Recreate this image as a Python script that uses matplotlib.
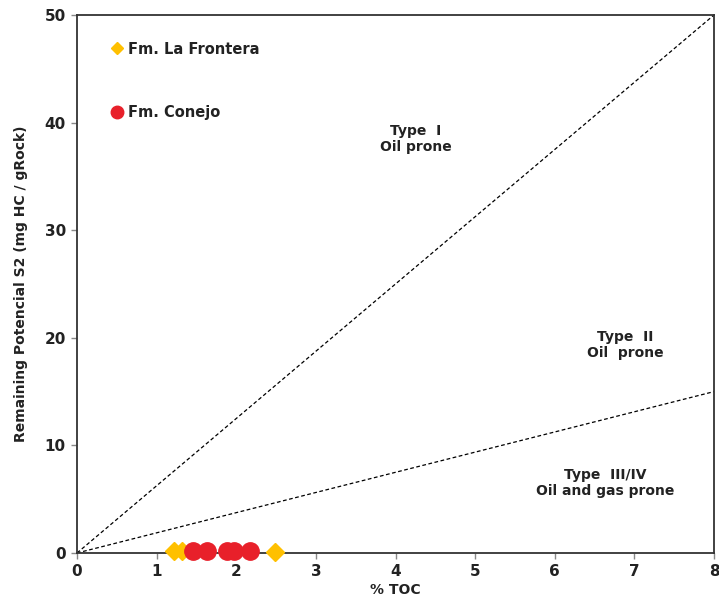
import matplotlib
matplotlib.use("Agg")
import matplotlib.pyplot as plt
from matplotlib.lines import Line2D

# Data
frontera_toc = [1.22, 1.32, 2.49]
frontera_s2 = [0.15, 0.2, 0.1]
conejo_toc = [1.46, 1.63, 1.88, 1.97, 2.17]
conejo_s2 = [0.2, 0.2, 0.2, 0.15, 0.2]

type1_x = [0, 8]
type1_y = [0, 50]
type2_x = [0, 8]
type2_y = [0, 15]

x_ticks = [0, 1, 2, 3, 4, 5, 6, 7, 8]
y_ticks = [0, 10, 20, 30, 40, 50]

plt.rcParams['font.family'] = ['DejaVu Sans']
fig = plt.figure(figsize=(7.19, 6.03), dpi=100)
ax = fig.add_axes([77/719, 1-553/603, (714-77)/719, (553-15)/603])

ax.plot(type1_x, type1_y, ls=(0, (3, 2)), color='black', lw=0.9)
ax.plot(type2_x, type2_y, ls=(0, (3, 2)), color='black', lw=0.9)

ax.plot(frontera_toc, frontera_s2, ls='none', marker='D', ms=9.5, color='#FFC000',
        clip_on=False, zorder=5)
ax.plot(conejo_toc, conejo_s2, ls='none', marker='o', ms=12.5, color='#E8202A',
        clip_on=False, zorder=6)

ax.set_xlim(0, 8)
ax.set_ylim(0, 50)
ax.set_xticks(x_ticks)
ax.set_yticks(y_ticks)
ax.tick_params(direction='out', length=4, color='#888888', width=1,
               labelsize=11, pad=4)
for lab in ax.get_xticklabels() + ax.get_yticklabels():
    lab.set_fontweight('bold')
    lab.set_color('#222222')
for s in ax.spines.values():
    s.set_color('#333333')
    s.set_linewidth(1.3)

ax.set_xlabel('% TOC', fontsize=10, fontweight='bold', labelpad=3, color='#222222')
ax.set_ylabel('Remaining Potencial S2 (mg HC / gRock)', fontsize=10,
              fontweight='bold', labelpad=12, color='#222222')

ax.text(4.25, 38.5, 'Type  I\nOil prone', ha='center', va='center',
        fontsize=10, fontweight='bold', color='#222222')
ax.text(6.88, 19.3, 'Type  II\nOil  prone', ha='center', va='center',
        fontsize=10, fontweight='bold', color='#222222')
ax.text(6.63, 6.5, 'Type  III/IV\nOil and gas prone', ha='center', va='center',
        fontsize=10, fontweight='bold', color='#222222')

handles = [Line2D([], [], ls='none', marker='D', ms=6, color='#FFC000'),
           Line2D([], [], ls='none', marker='o', ms=9, color='#E8202A')]
leg = ax.legend(handles, ['Fm. La Frontera', 'Fm. Conejo'], loc='upper left',
                bbox_to_anchor=(0.03, 0.975), frameon=False,
                fontsize=10.5, labelspacing=3.3, handletextpad=0.3,
                handlelength=1.0)
for t in leg.get_texts():
    t.set_fontweight('bold')
    t.set_color('#222222')

fig.savefig('out.png', dpi=100)
